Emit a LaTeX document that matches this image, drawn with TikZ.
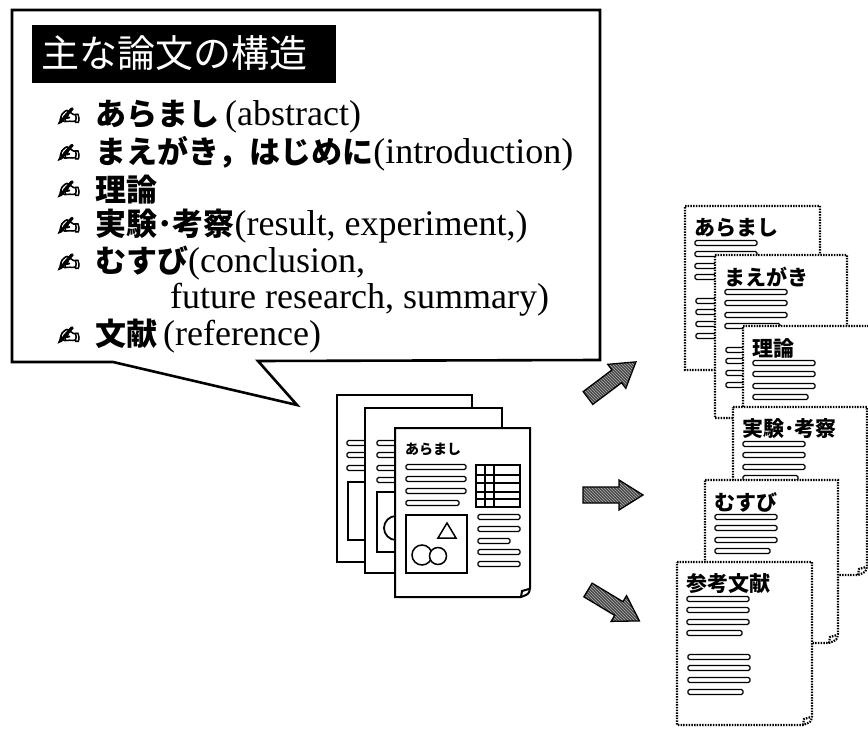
\documentclass[tikz,border=0pt]{standalone}
\usepackage{fontspec}
\setmainfont{Liberation Serif}
\newfontfamily\jp{Noto Sans CJK JP}
\newfontfamily\symfont{DejaVu Sans Bold}[FakeBold=3]
\usetikzlibrary{patterns}

% bold gothic Japanese inside the list lines
\newcommand\jb[1]{{\jp\bfseries\fontsize{31}{34}\selectfont #1}}

% a text line on a sheet: left x, centre y, length
\newcommand\tline[3]{\draw[textbar] (#1,#2-2.5) rectangle (#1+#3,#2+2.5);}

% sheet with a curled lower right corner: style, x0, y0, x1, y1
\newcommand\curlsheet[5]{%
  \path[#1] (#2,#3) -- (#4,#3) -- (#4,#5-9) .. controls (#4-1,#5-3) .. (#4-9,#5) -- (#2,#5) -- cycle;
  \draw[#1, fill=none] (#4-9,#5) -- (#4-8,#5-6) -- (#4-1,#5-8);}

% dotted sheet of one part of the paper: x0, y0, x1, y1, heading
\newcommand\partsheet[5]{%
  \curlsheet{dotsheet}{#1}{#2}{#3}{#4}
  \node[pagetitle] at (#1+9,#2+22) {#5};
  \tline{#1+10}{#2+37}{62}\tline{#1+10}{#2+48}{62}\tline{#1+10}{#2+60}{62}\tline{#1+10}{#2+71}{55}
  \tline{#1+11}{#2+95}{62}\tline{#1+11}{#2+106}{62}\tline{#1+11}{#2+118}{62}\tline{#1+11}{#2+130}{55}}

% thick hatched block arrow: tail point, direction angle
\newcommand\blockarrow[2]{%
  \begin{scope}[shift={#1}, rotate=#2]
    \fill[black!72] (0,-8) -- (36,-8) -- (36,-15) -- (60,0) -- (36,15) -- (36,8) -- (0,8) -- cycle;
    \fill[pattern=north west lines, pattern color=black!30] (0,-8) -- (36,-8) -- (36,-15) -- (60,0) -- (36,15) -- (36,8) -- (0,8) -- cycle;
    \draw[line width=1.3pt, line join=miter] (0,-8) -- (36,-8) -- (36,-15) -- (60,0) -- (36,15) -- (36,8) -- (0,8) -- cycle;
  \end{scope}}

\begin{document}
\begin{tikzpicture}[x=1pt, y=-1pt,
  frame/.style={draw=black, line width=2.6pt, line join=miter, fill=white},
  titlebar/.style={fill=black, draw=black, inner sep=0pt, minimum width=303pt, minimum height=57pt},
  item/.style={anchor=west, inner sep=0pt, font=\fontsize{36}{38}\selectfont},
  bul/.style={inner sep=0pt, font=\symfont\fontsize{27}{29}\selectfont},
  sheet/.style={draw=black, line width=2pt, fill=white},
  dotsheet/.style={draw=black, line width=2.2pt, dash pattern=on 1.5pt off 1.2pt, fill=white},
  textbar/.style={draw=black, line width=1.2pt, fill=white, rounded corners=1.5pt},
  pagetitle/.style={anchor=west, inner sep=0pt, font=\jp\bfseries\fontsize{21}{23}\selectfont}
]
\useasboundingbox (0,0) rectangle (868,730);
\fill[white] (0,0) rectangle (868,730);

% speech balloon with the list of parts
\draw[frame] (12,10) -- (600,10) -- (600,360) -- (258,361) -- (297,405) -- (113,362) -- (12,362) -- cycle;
\node[titlebar] (title) at (183.5,53.5) {};
\node[anchor=west, inner sep=0pt, text=white, font=\jp\fontsize{38}{40}\selectfont] (titletext) at (41,53.5) {主な論文の構造};

\node[bul] (b1) at (69,117) {✍};
\node[item] (i1) at (95,117) {\jb{あらまし}\,(abstract)};
\node[bul] (b2) at (69,153.5) {✍};
\node[item] (i2) at (95,153.5) {\jb{まえがき，はじめに}(introduction)};
\node[bul] (b3) at (69,190) {✍};
\node[item] (i3) at (95,190) {\jb{理論}};
\node[bul] (b4) at (69,226.5) {✍};
\node[item] (i4) at (95,226.5) {\jb{実験･考察}(result, experiment,)};
\node[bul] (b5) at (69,263) {✍};
\node[item] (i5) at (95,263) {\jb{むすび}(conclusion,};
\node[item] (i6) at (170,299.5) {future research, summary)};
\node[bul] (b7) at (69,336) {✍};
\node[item] (i7) at (95,336) {\jb{文献}\,(reference)};

% stack of whole papers
\draw[sheet] (337,395) rectangle (472,562);
\tline{347}{443}{60}\tline{347}{455}{60}\tline{347}{468}{60}
\draw[sheet, line width=1.8pt] (348,482) rectangle (405,540);
\draw[sheet] (365,408) rectangle (502,573);
\tline{377}{443}{60}\tline{377}{455}{60}\tline{377}{468}{60}\tline{377}{480}{60}
\draw[sheet, line width=1.8pt] (377,492) rectangle (440,552);
\draw[line width=1.8pt] (396,528) circle (12);
\curlsheet{sheet}{395}{428}{530}{597}
\node[anchor=west, inner sep=0pt, font=\jp\bfseries\fontsize{14}{16}\selectfont] (ptitle) at (405,449) {あらまし};
\tline{406}{467}{60}\tline{406}{479}{60}\tline{406}{491}{60}\tline{406}{503}{53}
\draw[line width=1.8pt] (476,465) rectangle (520,507);
\draw[line width=1.4pt] (485,465) -- (485,507) (494,465) -- (494,507)
  (476,475) -- (520,475) (476,483) -- (520,483) (476,492) -- (520,492) (476,499) -- (520,499);
\tline{478}{517}{42}\tline{478}{529}{42}\tline{478}{541}{32}\tline{478}{552}{42}\tline{478}{564}{42}
\draw[line width=1.8pt] (406,515) rectangle (467,573);
\draw[line width=1.5pt, line join=miter] (447,523) -- (456,538) -- (438,538) -- cycle;
\draw[line width=1.5pt] (422,555) circle (10);
\draw[line width=1.5pt, fill=white] (438,556) circle (8.5);

% arrows towards the separate parts
\blockarrow{(588,398)}{37}
\blockarrow{(583,495)}{0}
\blockarrow{(588,590)}{-31}

% the paper split into its parts
\partsheet{685}{206}{820}{370}{あらまし}
\partsheet{715}{255}{847}{418}{まえがき}
\partsheet{743}{326}{882}{490}{理論}
\partsheet{733}{407}{867}{575}{実験･考察}
\partsheet{705}{480}{838}{643}{むすび}
\partsheet{677}{562}{812}{725}{参考文献}
\end{tikzpicture}
\end{document}
